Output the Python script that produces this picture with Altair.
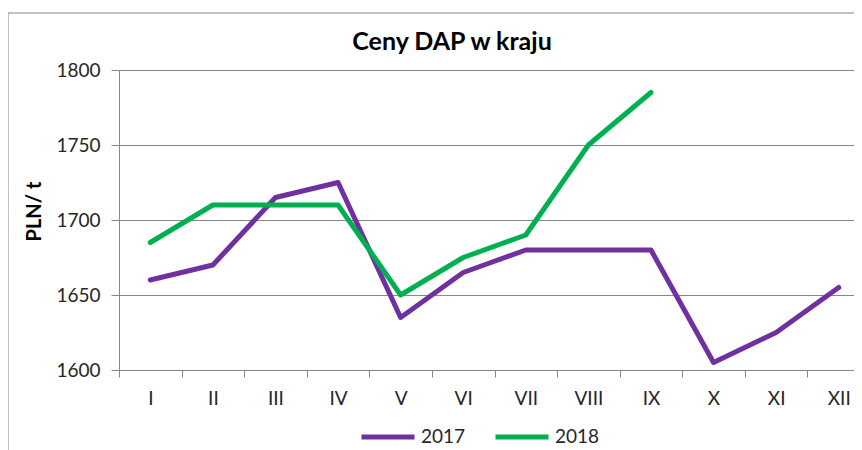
import altair as alt
import pandas as pd

months = ["I", "II", "III", "IV", "V", "VI", "VII", "VIII", "IX", "X", "XI", "XII"]
y2017 = [1660, 1670, 1715, 1725, 1635, 1665, 1680, 1680, 1680, 1605, 1625, 1655]
y2018 = [1685, 1710, 1710, 1710, 1650, 1675, 1690, 1750, 1785]
series = ["2017", "2018"]
colors = ["#7030A0", "#00B050"]
y_ticks = [1600, 1650, 1700, 1750, 1800]
title_text = "Ceny DAP w kraju"

rows = []
for m, v in zip(months, y2017):
    rows.append({"miesiac": m, "cena": v, "rok": "2017"})
for m, v in zip(months, y2018):
    rows.append({"miesiac": m, "cena": v, "rok": "2018"})
df = pd.DataFrame(rows)

FONT = "Lato"

lines = alt.Chart(df).mark_line(strokeWidth=5, strokeJoin="round", strokeCap="round").encode(
    x=alt.X("miesiac:N", sort=months,
            scale=alt.Scale(type="band", domain=months, range=[0, 751], paddingInner=0, paddingOuter=0),
            axis=alt.Axis(title=None, tickBand="extent", labelAngle=0, labelFontSize=19, labelFont=FONT,
                          labelColor="#262626", labelPadding=12, tickSize=7, tickColor="#868686",
                          domainColor="#868686", grid=False)),
    y=alt.Y("cena:Q",
            scale=alt.Scale(domain=[1600, 1800], nice=False, zero=False),
            axis=alt.Axis(title="PLN/ t", values=y_ticks, format="d", labelFontSize=19, labelFont=FONT,
                          labelColor="#262626", labelPadding=11, tickSize=8, tickColor="#868686",
                          domainColor="#868686", gridColor="#868686", grid=True,
                          titleFont=FONT, titleFontSize=20, titleFontWeight="bold", titleColor="#000000",
                          titleAngle=270, titleX=-75, titleY=141, titleAlign="center", titleBaseline="bottom")),
    color=alt.Color("rok:N", scale=alt.Scale(domain=series, range=colors),
                    legend=alt.Legend(title=None, orient="none", direction="horizontal",
                                      legendX=240, legendY=338, symbolType="stroke",
                                      symbolSize=2809, symbolStrokeWidth=5, labelFont=FONT,
                                      labelFontSize=19, labelColor="#262626", labelOffset=4,
                                      columnPadding=19)),
)

border_df = pd.DataFrame({"b": [1]})
border = alt.Chart(border_df).mark_rect(fill=None, stroke="#868686", strokeWidth=1).encode(
    x=alt.value(-111), x2=alt.value(900), y=alt.value(-57), y2=alt.value(500)
)

title_df = pd.DataFrame({"t": [title_text]})
title = alt.Chart(title_df).mark_text(font=FONT, fontSize=25, fontWeight="bold", color="#000000",
                                      align="center", baseline="alphabetic").encode(
    text="t:N", x=alt.value(333), y=alt.value(-20)
)

chart = alt.layer(border, lines, title).properties(
    width=735,
    height=300,
    autosize=alt.AutoSizeParams(type="none"),
    padding={"left": 111, "top": 62, "right": 0, "bottom": 80},
).configure_view(stroke=None).configure(background="white")

chart.save("out.html", embed_options={"renderer": "svg", "actions": False})
